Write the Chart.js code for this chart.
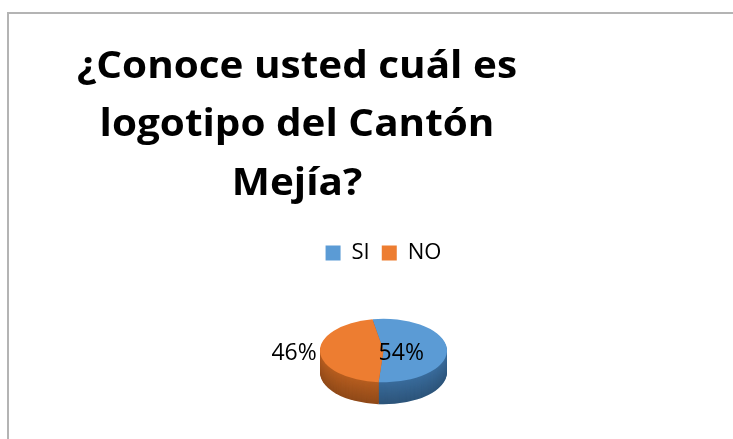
<!DOCTYPE html>
<html>
<head>
<meta charset="utf-8">
<script src="https://cdn.jsdelivr.net/npm/chart.js@4"></script>
<style>
  html, body { margin: 0; padding: 0; background: #fff; overflow: hidden; }
  #wrap { position: relative; width: 733px; height: 439px; }
  #frame { position: absolute; left: 7px; top: 12px; width: 800px; height: 500px; border: 2px solid #b4b4b4; box-sizing: border-box; }
  canvas { position: absolute; left: 0; top: 0; }
</style>
</head>
<body>
<div id="wrap">
  <div id="frame"></div>
  <canvas id="mainChart" width="733" height="439"></canvas>
</div>
<script>
// Datos del gráfico
const categories = ['SI', 'NO'];
const values = [54, 46];
const sliceColors = ['#5b9bd5', '#ed7d31'];
const sideColors = ['#3a6c9c', '#b75e20'];
const titleLines = ['¿Conoce usted cuál es', 'logotipo del Cantón', 'Mejía?'];

// título centrado (x centro, líneas base)
const titleCenterX = 297;
const titleBaselines = [78, 136, 195];
const titleTargetWidth = 440;
const tilt = 0.5;     // aplastamiento de la elipse
const depth = 22;     // grosor del pastel

const titlePlugin = {
    id: 'leftTitle',
    afterDraw(chart) {
        const ctx = chart.ctx;
        ctx.save();
        ctx.font = 'bold 38px "Open Sans"';
        ctx.fillStyle = '#000';
        ctx.textBaseline = 'alphabetic';
        ctx.textAlign = 'center';
        const sx = titleTargetWidth / ctx.measureText(titleLines[0]).width;
        titleLines.forEach((line, i) => {
            ctx.save();
            ctx.translate(titleCenterX, titleBaselines[i]);
            ctx.scale(sx, 1);
            ctx.fillText(line, 0, 0);
            ctx.restore();
        });
        ctx.restore();
    }
};

function arcPath(ctx, a, dy) {
    ctx.beginPath();
    ctx.moveTo(a.x, a.y + dy);
    ctx.ellipse(a.x, a.y + dy, a.outerRadius, a.outerRadius * tilt, 0, a.startAngle, a.endAngle);
    ctx.closePath();
}

const pie3dPlugin = {
    id: 'pie3d',
    beforeDatasetsDraw(chart) {
        const ctx = chart.ctx;
        const arcs = chart.getDatasetMeta(0).data;
        if (!arcs.length) return;
        // lados del pastel
        for (let d = depth; d >= 1; d--) {
            const t = d / depth;
            arcs.forEach((a, i) => {
                arcPath(ctx, a, d);
                ctx.fillStyle = sideColors[i];
                ctx.fill();
                ctx.fillStyle = 'rgba(0,0,0,' + (0.22 * t).toFixed(3) + ')';
                ctx.fill();
            });
        }
        const cx = arcs[0].x, cy = arcs[0].y;
        ctx.save();
        ctx.translate(cx, cy);
        ctx.scale(1, tilt);
        ctx.translate(-cx, -cy);
    },
    afterDatasetsDraw(chart) {
        const ctx = chart.ctx;
        ctx.restore();
        const arcs = chart.getDatasetMeta(0).data;
        const total = values.reduce((s, v) => s + v, 0);
        ctx.save();
        ctx.font = '23px "Open Sans"';
        ctx.fillStyle = '#000';
        ctx.textAlign = 'center';
        ctx.textBaseline = 'middle';
        arcs.forEach((a, i) => {
            const mid = (a.startAngle + a.endAngle) / 2;
            const pct = Math.round(values[i] / total * 100) + '%';
            let x;
            if (i === 0) {
                x = a.x + a.outerRadius * 0.28 * Math.cos(mid);
            } else {
                x = a.x + (a.outerRadius + 26) * Math.cos(mid);
            }
            ctx.fillText(pct, x, a.y + 3);
        });
        ctx.restore();
    }
};

const ctx = document.getElementById('mainChart').getContext('2d');
const chart = new Chart(ctx, {
    type: 'pie',
    data: {
        labels: categories,
        datasets: [{
            data: values,
            backgroundColor: sliceColors,
            borderWidth: 0,
            radius: 63.5
        }]
    },
    options: {
        responsive: false,
        animation: false,
        rotation: -10,
        layout: {
            padding: { top: 230, bottom: 12, left: 134, right: 100 }
        },
        plugins: {
            title: { display: false },
            tooltip: { enabled: false },
            legend: {
                display: true,
                position: 'top',
                labels: {
                    boxWidth: 15,
                    boxHeight: 15,
                    padding: 12,
                    color: '#000',
                    font: { family: 'Open Sans', size: 22 }
                }
            }
        }
    },
    plugins: [pie3dPlugin, titlePlugin]
});
</script>
</body>
</html>
